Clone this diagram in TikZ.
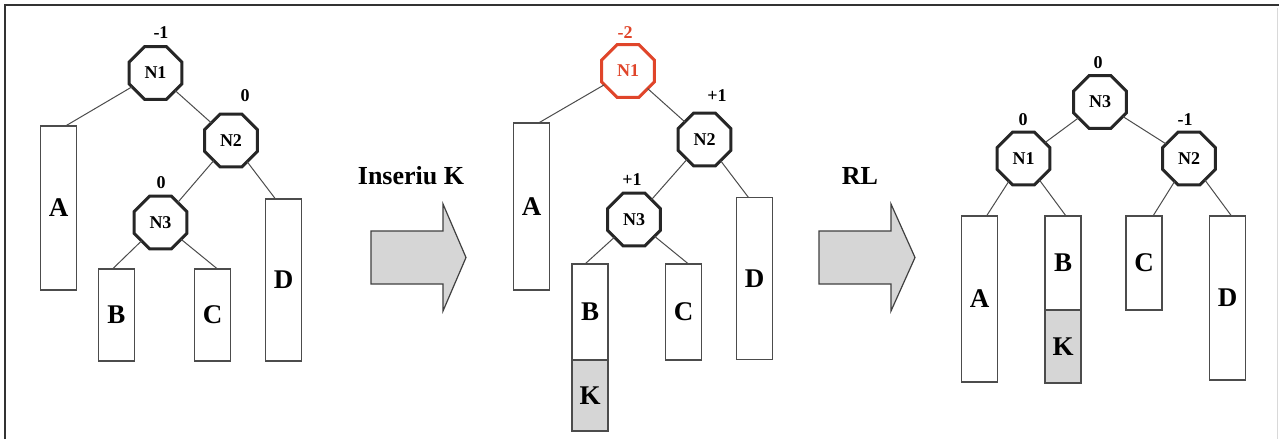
\documentclass[tikz,border=0pt]{standalone}
\usepackage{fontspec}
\setmainfont{Liberation Serif}
\usetikzlibrary{shapes.geometric}
\definecolor{hot}{HTML}{E0452A}
\definecolor{kfill}{HTML}{D6D6D6}
\begin{document}
\begin{tikzpicture}[x=1pt,y=-1pt,
  oct/.style={regular polygon, regular polygon sides=8, minimum size=57,
    inner sep=0pt, outer sep=0pt, draw=black!85, line width=3pt, fill=white,
    font=\bfseries\fontsize{18}{18}\selectfont},
  hotoct/.style={oct, draw=hot, text=hot},
  bal/.style={inner sep=0pt, font=\bfseries\fontsize{18}{18}\selectfont},
  sub/.style={rectangle, draw=black!70, line width=1.5pt, fill=white,
    minimum width=36, inner sep=0pt, outer sep=0pt,
    font=\bfseries\fontsize{27}{27}\selectfont},
  ksub/.style={sub, fill=kfill},
  link/.style={draw=black!70, line width=1pt},
  bigarrow/.style={draw=black!75, line width=1.2pt, fill=kfill, line join=miter},
  caption/.style={inner sep=0pt, font=\bfseries\fontsize{26}{26}\selectfont}]
\useasboundingbox (0,0) rectangle (1279,439);
\fill[white] (0,0) rectangle (1279,439);

% frame
\draw[black!80, line width=2pt] (5,439) -- (5,5) -- (1279,5);
\draw[black!15, line width=1pt] (1277,8) -- (1277,439);

% ---- tree before insertion ----
\node[sub, minimum height=164] (a1) at (58.5,208) {A};
\node[sub, minimum height=92] (b1) at (116.5,315) {B};
\node[sub, minimum height=92] (c1) at (212.5,315) {C};
\node[sub, minimum height=162] (d1) at (283.5,280) {D};
\node[oct] (n11) at (155.5,73) {N1};
\node[oct] (n21) at (231,140.5) {N2};
\node[oct] (n31) at (160.5,222.5) {N3};
\node[bal] at (161,33) {-1};
\node[bal] at (245,96) {0};
\node[bal] at (161,183) {0};
\draw[link] (n11) -- ([xshift=7pt]a1.north);
\draw[link] (n11) -- (n21);
\draw[link] (n21) -- (n31);
\draw[link] (n21) -- ([xshift=-8pt]d1.north);
\draw[link] (n31) -- ([xshift=-4pt]b1.north);
\draw[link] (n31) -- ([xshift=5pt]c1.north);

% ---- insertion step ----
\filldraw[bigarrow] (371,231) -- (443,231) -- (443,204) -- (466,257.5)
  -- (443,311) -- (443,284) -- (371,284) -- cycle;
\node[caption] (ins) at (411,176) {Inseriu K};

% ---- tree after insertion ----
\node[sub, minimum height=167] (a2) at (531.5,206.5) {A};
\node[sub, minimum height=96] (b2) at (590,312) {B};
\node[ksub, minimum height=71] (k2) at (590,395.5) {K};
\node[sub, minimum height=96] (c2) at (683.5,312) {C};
\node[sub, minimum height=162] (d2) at (754.5,278.5) {D};
\node[hotoct] (n12) at (628,71) {N1};
\node[oct] (n22) at (704.5,139.5) {N2};
\node[oct] (n32) at (634,219.5) {N3};
\node[bal, text=hot] at (625,33) {-2};
\node[bal] at (717,96) {+1};
\node[bal] at (632,180) {+1};
\draw[link] (n12) -- ([xshift=7pt]a2.north);
\draw[link] (n12) -- (n22);
\draw[link] (n22) -- (n32);
\draw[link] (n22) -- ([xshift=-6pt]d2.north);
\draw[link] (n32) -- ([xshift=-5pt]b2.north);
\draw[link] (n32) -- ([xshift=5pt]c2.north);

% ---- rotation step ----
\filldraw[bigarrow] (819,231) -- (891,231) -- (891,204) -- (915,257.5)
  -- (891,311) -- (891,284) -- (819,284) -- cycle;
\node[caption] (rot) at (860,176) {RL};

% ---- tree after RL rotation ----
\node[sub, minimum height=166] (a3) at (979.5,299) {A};
\node[sub, minimum height=94] (b3) at (1063,263) {B};
\node[ksub, minimum height=73] (k3) at (1063,346.5) {K};
\node[sub, minimum height=94] (c3) at (1144,263) {C};
\node[sub, minimum height=164] (d3) at (1227.5,298) {D};
\node[oct] (n33) at (1100,102) {N3};
\node[oct] (n13) at (1023.5,158.5) {N1};
\node[oct] (n23) at (1189,158.5) {N2};
\node[bal] at (1098,63) {0};
\node[bal] at (1023,120) {0};
\node[bal] at (1185,120) {-1};
\draw[link] (n33) -- (n13);
\draw[link] (n33) -- (n23);
\draw[link] (n13) -- ([xshift=7pt]a3.north);
\draw[link] (n13) -- ([xshift=3pt]b3.north);
\draw[link] (n23) -- ([xshift=9pt]c3.north);
\draw[link] (n23) -- ([xshift=4pt]d3.north);
\end{tikzpicture}
\end{document}
